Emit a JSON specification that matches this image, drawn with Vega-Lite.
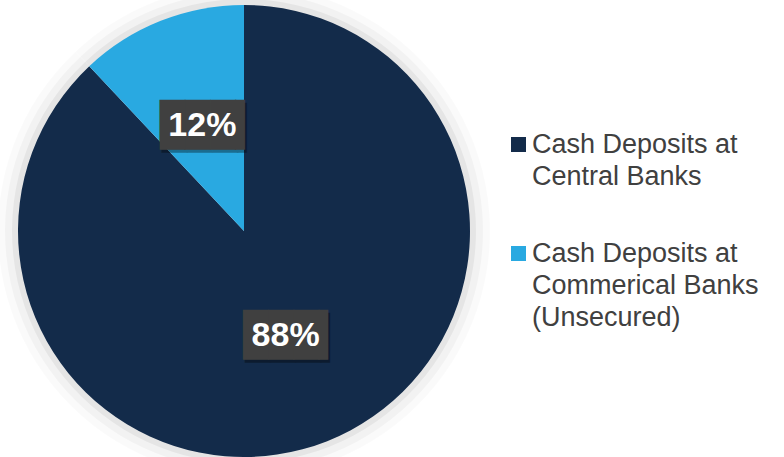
{
  "$schema": "https://vega.github.io/schema/vega-lite/v6.json",
  "width": 488,
  "height": 452,
  "autosize": {"type": "none"},
  "padding": {"top": 5, "left": 0, "right": 296, "bottom": 0},
  "background": "white",
  "config": {"view": {"stroke": null}},
  "data": {"values": [
    {"category": "Cash Deposits at Central Banks", "share": 88, "label": "88%"},
    {"category": "Cash Deposits at Commerical Banks (Unsecured)", "share": 12, "label": "12%"}
  ]},
  "encoding": {
    "theta": {"field": "share", "type": "quantitative", "stack": true},
    "order": {"field": "share", "type": "quantitative", "sort": "descending"},
    "color": {
      "field": "category",
      "type": "nominal",
      "scale": {
        "domain": ["Cash Deposits at Central Banks", "Cash Deposits at Commerical Banks (Unsecured)"],
        "range": ["#132b4a", "#29a9e1"]
      },
      "legend": {
        "orient": "none",
        "legendX": 505,
        "legendY": 126,
        "title": null,
        "symbolType": "square",
        "symbolSize": 225,
        "symbolStrokeWidth": 0,
        "labelFont": "Liberation Sans",
        "labelFontSize": 27,
        "labelColor": "#404040",
        "labelLimit": 0,
        "labelOffset": 0,
        "rowPadding": 49,
        "labelExpr": "datum.label == 'Cash Deposits at Central Banks' ? ['Cash Deposits at', 'Central Banks'] : ['Cash Deposits at', 'Commerical Banks', '(Unsecured)']",
        "encoding": {"labels": {"lineHeight": {"value": 32}}}
      }
    }
  },
  "layer": [
    {"mark": {"type": "arc", "outerRadius": 246, "opacity": 0.02}, "encoding": {"color": {"value": "#000000"}}},
    {"mark": {"type": "arc", "outerRadius": 239, "opacity": 0.03}, "encoding": {"color": {"value": "#000000"}}},
    {"mark": {"type": "arc", "outerRadius": 232, "opacity": 0.05}, "encoding": {"color": {"value": "#000000"}}},
    {"mark": {"type": "arc", "outerRadius": 226}},
    {"mark": {"type": "text", "radius": 113, "text": "███▍", "font": "DejaVu Sans Mono", "fontSize": 42, "baseline": "middle", "align": "center", "dx": 10, "dy": 3, "opacity": 0.35}, "encoding": {"color": {"value": "#000000"}}},
    {"mark": {"type": "text", "radius": 113, "text": "███▍", "font": "DejaVu Sans Mono", "fontSize": 42, "baseline": "middle", "align": "center", "dx": 8}, "encoding": {"color": {"value": "#404040"}}},
    {"mark": {"type": "text", "radius": 113, "font": "Liberation Sans", "fontWeight": "bold", "fontSize": 34, "baseline": "middle", "align": "center"}, "encoding": {"text": {"field": "label"}, "color": {"value": "#ffffff"}}}
  ]
}
